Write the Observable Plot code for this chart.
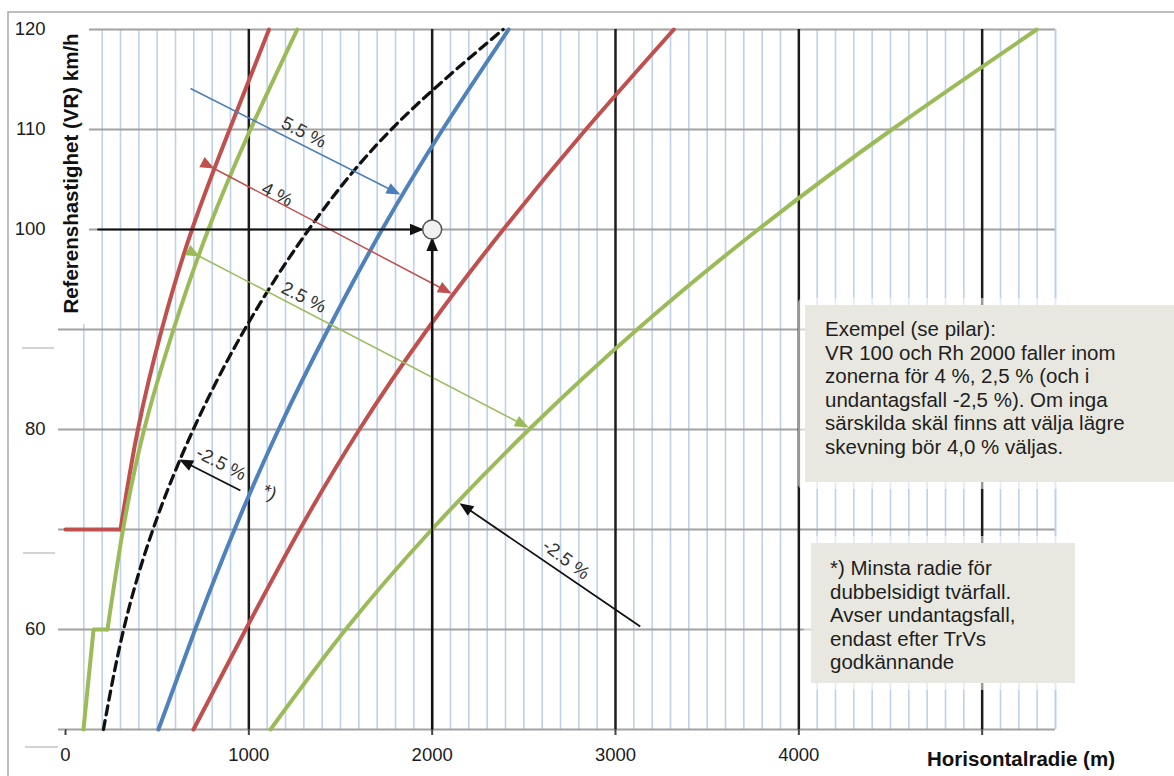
<!DOCTYPE html>
<html>
<head>
<meta charset="utf-8">
<script src="https://cdn.jsdelivr.net/npm/d3@7"></script>
<script src="https://cdn.jsdelivr.net/npm/@observablehq/plot@0.6"></script>
<style>
html,body{margin:0;padding:0;background:#fff;}
#chart{position:relative;width:1174px;height:776px;overflow:hidden;}
</style>
</head>
<body>
<div id="chart"></div>
<script>
// ---- Data ----
const speeds = [50, 60, 70, 80, 90, 100, 110, 120];           // VR km/h
const rDashed     = [207, 317, 477, 697, 977, 1327, 1777, 2387]; // -2.5 % min radius (dashed)
const rBlue       = [507, 707, 922, 1162, 1432, 1727, 2057, 2417];
const rRedOuter   = [698, 983, 1278, 1603, 1973, 2388, 2838, 3318];
const rGreenOuter = [1118, 1528, 1998, 2528, 3118, 3778, 4508, 5298];

const vRedInner = [70, 80, 90, 100, 110, 120];
const rRedInner = [300, 395, 525, 690, 895, 1110];
const vRedFlat  = [70, 70];
const rRedFlat  = [0, 300];

const vGreenStep  = [50, 60, 60];
const rGreenStep  = [98, 153, 229];
const vGreenInner = [60, 70, 80, 90, 100, 110, 120];
const rGreenInner = [229, 314, 429, 589, 779, 1009, 1264];

const xTicks = [0, 1000, 2000, 3000, 4000, 5000];
const xTickLabeled = [0, 1000, 2000, 3000, 4000];
const yTicks = [50, 60, 70, 80, 90, 100, 110, 120];
const yTickLabeled = [60, 80, 100, 110, 120];
const minorX = d3.range(100, 5401, 100).filter(d => d % 1000 !== 0);

// annotation arrows [R1, V1, R2, V2]
const arrow55  = [682, 114.1, 1815, 103.6];
const arrow4   = [800, 106.2, 2095, 93.7];
const arrow25  = [722, 97.4, 2515, 80.3];
const arrowNegA = [954, 73.9, 632, 76.9];
const arrowNegB = [3135, 60.3, 2160, 72.5];
const exampleR = 2000, exampleV = 100;
const arrowExH = [174, 100, 1942, 100];
const arrowExV = [2000, 50, 2000, 99.0];

const noteText = ["5.5 %", "4 %", "2.5 %", "-2.5 %", "*)", "-2.5 %"];
const noteR    = [1299, 1154, 1299, 849, 1112, 2730];
const noteV    = [109.7, 103.5, 93.2, 76.6, 73.7, 67.0];
const noteRot  = [27, 27, 27, 27, 27, 37];

const box1Lines = [
  "Exempel (se pilar):",
  "VR 100 och Rh 2000 faller inom",
  "zonerna för 4 %, 2,5 % (och i",
  "undantagsfall -2,5 %). Om inga",
  "särskilda skäl finns att välja lägre",
  "skevning bör 4,0 % väljas."
];
const box2Lines = [
  "*) Minsta radie för",
  "dubbelsidigt tvärfall.",
  "Avser undantagsfall,",
  "endast efter TrVs",
  "godkännande"
];

// ---- Build rows ----
const rows = (R, V) => R.map((r, i) => ({R: r, V: V[i]}));
const notes = noteText.map((t, i) => ({t, R: noteR[i], V: noteV[i], a: noteRot[i]}));
const FONT = '"Liberation Sans", Arial, Helvetica, sans-serif';
const RED = "#c0504d", GREEN = "#9bbb59", BLUE = "#4f81bd";

const link = (a, color, width, both) => Plot.link([a], {
  x1: d => d[0], y1: d => d[1], x2: d => d[2], y2: d => d[3],
  stroke: color, strokeWidth: width,
  markerEnd: "arrow", markerStart: both ? "arrow" : "none"
});

const svg = Plot.plot({
  width: 1174, height: 776,
  marginLeft: 65, marginRight: 119, marginTop: 29, marginBottom: 47,
  x: {domain: [0, 5400]},
  y: {domain: [50, 120]},
  style: {background: "#fff", fontFamily: FONT, fontSize: "18.5px", color: "#1b1b24"},
  marks: [
    Plot.ruleX(minorX, {stroke: "#bed1eb", strokeWidth: 1.6}),
    Plot.ruleY(yTicks, {stroke: "#a2a2a2", strokeWidth: 2}),
    Plot.ruleX(xTicks.slice(1), {stroke: "#1c1c1c", strokeWidth: 2.5}),
    Plot.ruleX([5400], {stroke: "#bed1eb", strokeWidth: 1.6}),
    Plot.axisX({ticks: xTicks, tickSize: 6, tickPadding: 12, stroke: "#444", strokeWidth: 2,
                fill: "#1b1b24", fontSize: 18.5, label: null,
                tickFormat: d => xTickLabeled.includes(d) ? String(d) : ""}),
    Plot.axisY({ticks: yTicks, tickSize: 7, tickPadding: 13, stroke: "#a2a2a2", strokeWidth: 2,
                fill: "#1b1b24", fontSize: 18.5, label: null,
                tickFormat: d => yTickLabeled.includes(d) ? String(d) : ""}),
    // curves
    Plot.line(rows(rRedFlat, vRedFlat), {x: "R", y: "V", stroke: RED, strokeWidth: 4}),
    Plot.line(rows(rRedInner, vRedInner), {x: "R", y: "V", stroke: RED, strokeWidth: 4, curve: "natural"}),
    Plot.line(rows(rGreenStep, vGreenStep), {x: "R", y: "V", stroke: GREEN, strokeWidth: 4}),
    Plot.line(rows(rGreenInner, vGreenInner), {x: "R", y: "V", stroke: GREEN, strokeWidth: 4, curve: "natural"}),
    Plot.line(rows(rDashed, speeds), {x: "R", y: "V", stroke: "#111", strokeWidth: 3.3, strokeDasharray: "9,6", curve: "natural"}),
    Plot.line(rows(rBlue, speeds), {x: "R", y: "V", stroke: BLUE, strokeWidth: 4, curve: "natural"}),
    Plot.line(rows(rRedOuter, speeds), {x: "R", y: "V", stroke: RED, strokeWidth: 4, curve: "natural"}),
    Plot.line(rows(rGreenOuter, speeds), {x: "R", y: "V", stroke: GREEN, strokeWidth: 4, curve: "natural"}),
    // annotation arrows
    link(arrow55, "#4a7ebb", 1.5, false),
    link(arrow4, RED, 1.5, true),
    link(arrow25, GREEN, 1.5, true),
    link(arrowNegA, "#111", 1.8, false),
    link(arrowNegB, "#111", 1.8, false),
    link(arrowExH, "#111", 2, false),
    link(arrowExV, "#111", 2, false),
    Plot.dot([{R: exampleR, V: exampleV}], {x: "R", y: "V", r: 9.5, fill: "#f1f1f1", stroke: "#555", strokeWidth: 1.5}),
    Plot.text(notes, {x: "R", y: "V", text: "t", rotate: "a", fontSize: 18.5, fill: "#333"})
  ]
});

// filled arrowheads
svg.querySelectorAll("marker").forEach(m => {
  const c = m.getAttribute("stroke") || "#111";
  m.setAttribute("markerUnits", "userSpaceOnUse");
  m.setAttribute("markerWidth", 24);
  m.setAttribute("markerHeight", 24);
  const p = m.querySelector("path");
  p.setAttribute("d", "M-4.8,-2.4L1,0L-4.8,2.4Z");
  p.setAttribute("fill", c);
  p.setAttribute("stroke", "none");
});

// ---- Overlay decorations ----
const s = d3.select(svg);
const deco = s.append("g").attr("font-family", FONT).attr("text-anchor", "start");
// outer frame
deco.append("path").attr("d", "M8,776V12H1174").attr("fill", "none").attr("stroke", "#a9a9a9").attr("stroke-width", 1.5);
// small stray lines on left
[[22, 54, 348], [23, 55, 553], [25, 58, 747]].forEach(([a, b, y]) =>
  deco.append("line").attr("x1", a).attr("x2", b).attr("y1", y).attr("y2", y).attr("stroke", "#c4c4c4").attr("stroke-width", 1.5));
// y-axis title patch
deco.append("rect").attr("x", 50).attr("y", 14).attr("width", 39).attr("height", 310).attr("fill", "#fff");
deco.append("text").attr("transform", "translate(78,173.5) rotate(-90)")
  .attr("text-anchor", "middle").attr("font-weight", "bold").attr("font-size", 20.5).attr("fill", "#111")
  .text("Referenshastighet (VR) km/h");
// x-axis title
deco.append("text").attr("x", 1115).attr("y", 766).attr("text-anchor", "end")
  .attr("font-weight", "bold").attr("font-size", 20.5).attr("fill", "#111").text("Horisontalradie (m)");

function box(x, y, w, h, lines, tx, firstBase) {
  deco.append("rect").attr("x", x - 7).attr("y", y - 7).attr("width", w + 14).attr("height", h + 14)
    .attr("rx", 5).attr("fill", "#fff").attr("fill-opacity", 0.55);
  deco.append("rect").attr("x", x).attr("y", y).attr("width", w).attr("height", h).attr("fill", "#e9e8e0");
  const t = deco.append("text").attr("font-size", 20.5).attr("fill", "#1e1e22").attr("text-anchor", "start");
  lines.forEach((ln, i) => t.append("tspan").attr("x", tx).attr("y", firstBase + i * 23.6).text(ln));
}
box(805, 305, 380, 177, box1Lines, 825, 336);
box(811, 543, 264, 140, box2Lines, 830, 575);

document.getElementById("chart").appendChild(svg);
</script>
</body>
</html>
